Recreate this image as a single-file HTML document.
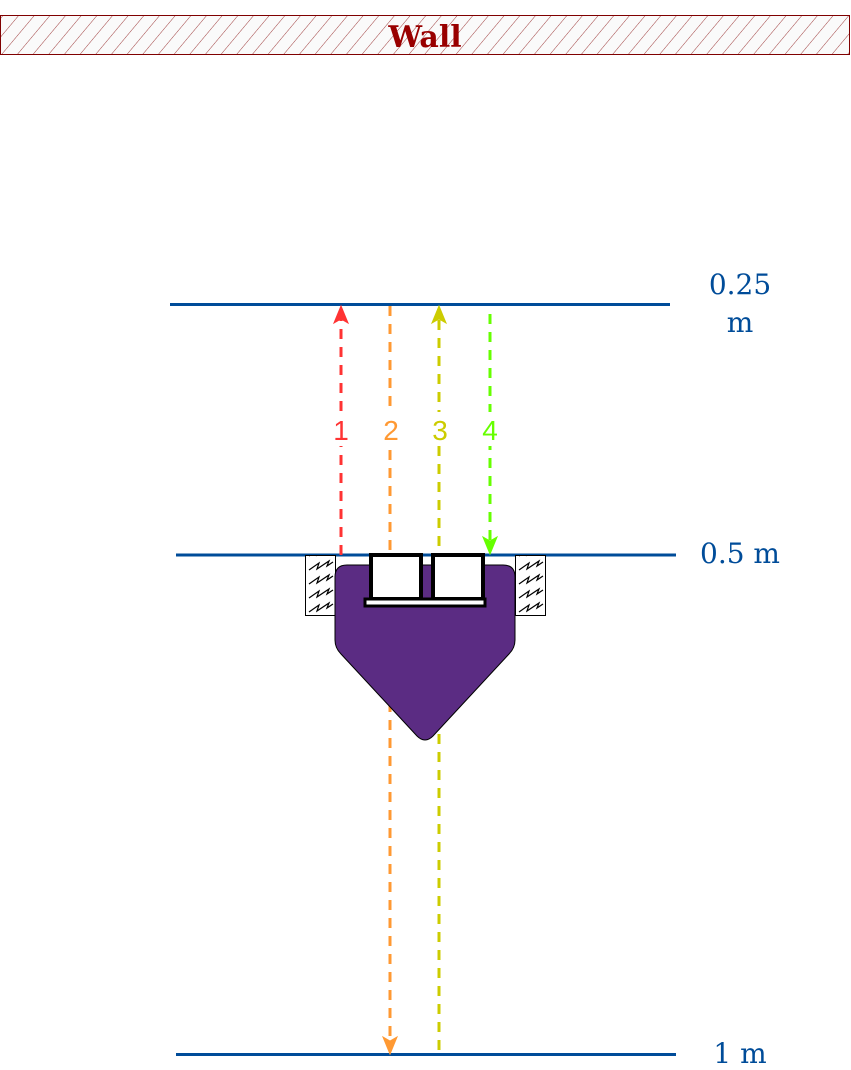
<!DOCTYPE html>
<html><head><meta charset="utf-8"><style>
body{margin:0;background:#fff}
svg{display:block}
text{font-family:"DejaVu Serif","Liberation Serif",serif}
</style></head><body>
<svg width="851" height="1070" viewBox="0 0 851 1070">
<defs>
<pattern id="hatch" width="12" height="12" patternUnits="userSpaceOnUse" patternTransform="rotate(40)">
<rect width="12" height="12" fill="#fafafa"/><line x1="0" y1="0" x2="0" y2="12" stroke="#a04040" stroke-width="1"/>
</pattern>
<pattern id="zig" x="305" y="558" width="30" height="14" patternUnits="userSpaceOnUse">
<rect width="30" height="14" fill="#fff"/>
<path d="M4 12 L14 5 L12 11 L24 3 L22 8 L28 4" fill="none" stroke="#000" stroke-width="1.2"/>
</pattern>
</defs>
<g>
<rect x="0.5" y="15.5" width="849" height="39" fill="url(#hatch)" stroke="#800000" stroke-width="1"/>
<text x="425" y="47" text-anchor="middle" font-size="30" font-weight="bold" fill="#990000">Wall</text>
</g>
<line x1="170" y1="304.5" x2="670" y2="304.5" stroke="#004C99" stroke-width="3"/>
<line x1="176" y1="555" x2="676" y2="555" stroke="#004C99" stroke-width="3"/>
<line x1="176" y1="1054.5" x2="676" y2="1054.5" stroke="#004C99" stroke-width="3"/>
<text x="740" y="294" text-anchor="middle" font-size="28" fill="#004C99">0.25</text>
<text x="740" y="332" text-anchor="middle" font-size="28" fill="#004C99">m</text>
<text x="740" y="563" text-anchor="middle" font-size="28" fill="#004C99">0.5 m</text>
<text x="740" y="1063" text-anchor="middle" font-size="28" fill="#004C99">1 m</text>
<g stroke-width="3" stroke-dasharray="10 8" fill="none">
<line x1="341" y1="555" x2="341" y2="318" stroke="#FF3333"/>
<line x1="390" y1="306" x2="390" y2="1040" stroke="#FF9933"/>
<line x1="439" y1="1050" x2="439" y2="318" stroke="#CCCC00"/>
<line x1="490" y1="314" x2="490" y2="542" stroke="#66FF00"/>
</g>
<path d="M341 306 L348 323 L341 319 L334 323 Z" fill="#FF3333" stroke="#FF3333"/>
<path d="M390 1054 L383 1037 L390 1041 L397 1037 Z" fill="#FF9933" stroke="#FF9933"/>
<path d="M439 306 L446 323 L439 319 L432 323 Z" fill="#CCCC00" stroke="#CCCC00"/>
<path d="M490 554 L483 537 L490 541 L497 537 Z" fill="#66FF00" stroke="#66FF00"/>
<g>
<rect x="305.5" y="555.5" width="30" height="60" fill="url(#zig)" stroke="#000"/>
<rect x="515.5" y="555.5" width="30" height="60" fill="url(#zig)" stroke="#000"/>
<path d="M347 565 L503 565 Q515 565 515 577 L515 640 Q515 648 509 654 L433 736 Q425 744 417 736 L341 654 Q335 648 335 640 L335 577 Q335 565 347 565 Z" fill="#5B2C83" stroke="#000" stroke-width="1"/>
<rect x="371" y="555" width="50" height="44" fill="#fff" stroke="#000" stroke-width="4"/>
<rect x="433" y="555" width="50" height="44" fill="#fff" stroke="#000" stroke-width="4"/>
<rect x="365" y="599" width="120" height="7" fill="#fff" stroke="#000" stroke-width="3"/>
</g>
<g font-size="28" text-anchor="middle">
<rect x="330" y="412" width="22" height="34" fill="#fff"/>
<rect x="379" y="412" width="22" height="34" fill="#fff"/>
<rect x="428" y="412" width="22" height="34" fill="#fff"/>
<rect x="479" y="412" width="22" height="34" fill="#fff"/>
<text x="341" y="440" fill="#FF3333" style="font-family:'Liberation Sans',sans-serif">1</text>
<text x="391" y="440" fill="#FF9933" style="font-family:'Liberation Sans',sans-serif">2</text>
<text x="440" y="440" fill="#CCCC00" style="font-family:'Liberation Sans',sans-serif">3</text>
<text x="490" y="440" fill="#66FF00" style="font-family:'Liberation Sans',sans-serif">4</text>
</g>
</svg>
</body></html>
